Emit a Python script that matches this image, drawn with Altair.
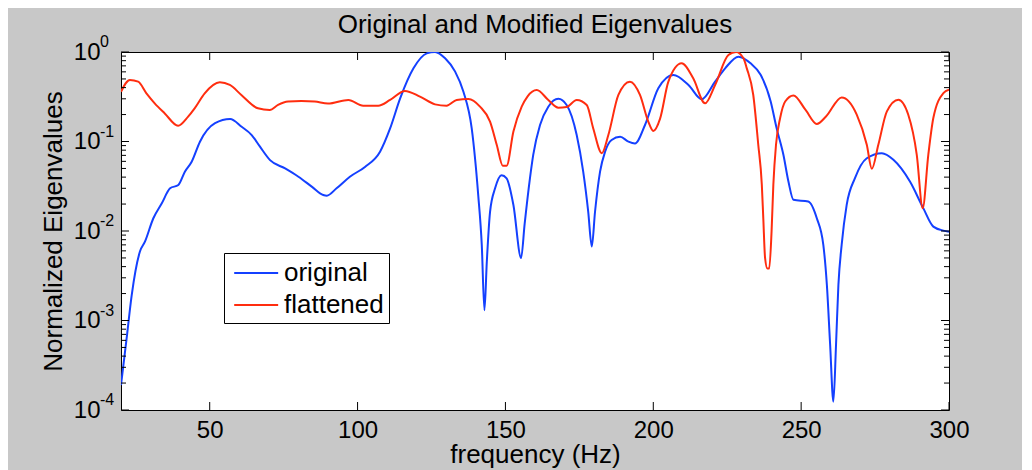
import altair as alt
import pandas as pd

# ---------------- data ----------------
orig_freq = [20.0, 21.9, 23.6, 26.4, 28.1, 30.9, 33.8, 36.6, 39.4, 41.6, 43.9, 46.7,
             51.8, 56.9, 60.8, 64.2, 67.0, 70.4, 75.5, 80.0, 84.5, 88.4, 89.6, 92.9,
             97.4, 102.5, 107.6, 111.0, 114.4, 118.9, 123.4, 126.2, 129.6, 133.0, 135.8,
             138.6, 140.8, 142.0, 142.9, 143.7, 144.8, 146.5, 148.7, 150.4, 152.7, 155.3,
             156.5, 158.3, 159.4, 161.7, 164.5, 167.9, 170.7, 174.1, 176.3, 178.0, 179.2,
             180.3, 182.0, 183.7, 185.9, 188.8, 191.6, 193.8, 197.2, 201.7, 206.8, 211.9,
             216.4, 220.9, 224.3, 228.8, 232.9, 236.3, 239.7, 241.7, 244.0, 245.7, 247.4,
             252.4, 255.3, 257.5, 258.7, 259.8, 260.9, 261.8, 262.6, 263.7, 265.4, 268.2,
             272.2, 277.3, 281.2, 286.8, 291.3, 294.7, 298.1, 300.0]
orig_val = [1.9e-4, 6.3e-4, 1.9e-3, 5.9e-3, 7.6e-3, 0.0138, 0.0204, 0.030, 0.0327, 0.046,
            0.0594, 0.0995, 0.16, 0.178, 0.146, 0.118, 0.0875, 0.062, 0.050, 0.0404, 0.0313,
            0.0252, 0.0248, 0.030, 0.0404, 0.052, 0.077, 0.14, 0.303, 0.657, 0.966, 1.0,
            0.85, 0.603, 0.36, 0.14, 0.0252, 7.0e-3, 1.3e-3, 4.5e-3, 0.0164, 0.030, 0.042,
            0.0388, 0.0195, 5.0e-3, 0.012, 0.039, 0.071, 0.153, 0.245, 0.30, 0.256, 0.118,
            0.046, 0.0164, 6.7e-3, 0.0164, 0.046, 0.077, 0.104, 0.113, 0.0995, 0.095, 0.153,
            0.393, 0.553, 0.428, 0.296, 0.466, 0.657, 0.887, 0.747, 0.557, 0.28, 0.141,
            0.071, 0.0357, 0.0223, 0.0214, 0.0139, 0.0070, 0.0025, 5.4e-4, 1.24e-4, 5.4e-4,
            0.0025, 0.0070, 0.0196, 0.039, 0.065, 0.074, 0.0625, 0.0357, 0.018, 0.0112,
            0.0101, 0.0098]

flat_freq = [20.0, 23.0, 25.8, 28.6, 31.4, 34.8, 39.3, 42.7, 44.9, 48.3, 53.4, 56.8,
             60.7, 66.3, 70.3, 73.1, 76.5, 81.0, 85.5, 90.0, 96.9, 101.9, 107.0, 111.0,
             116.0, 121.1, 126.2, 130.1, 133.5, 137.5, 141.4, 144.8, 147.1, 149.1, 150.4,
             152.7, 155.5, 157.5, 160.6, 164.5, 167.9, 170.7, 174.1, 177.5, 179.7, 182.6,
             184.8, 188.2, 192.1, 195.5, 198.3, 200.0, 202.3, 205.1, 209.6, 213.5, 217.5,
             220.9, 225.4, 228.0, 230.5, 231.6, 233.8, 235.5, 236.7, 237.2, 237.8, 238.6,
             239.2, 240.0, 240.6, 241.5, 242.9, 244.6, 247.4, 251.5, 255.3, 258.4, 263.7,
             268.8, 272.2, 273.9, 276.1, 279.0, 282.9, 286.2, 289.1, 291.1, 293.0, 294.7,
             298.1, 300.0]
flat_val = [0.36, 0.487, 0.466, 0.345, 0.267, 0.206, 0.150, 0.19, 0.235, 0.345, 0.458,
            0.428, 0.331, 0.235, 0.225, 0.256, 0.279, 0.283, 0.279, 0.265, 0.291, 0.251,
            0.251, 0.291, 0.367, 0.317, 0.26, 0.251, 0.291, 0.298, 0.245, 0.167, 0.091,
            0.0537, 0.0537, 0.129, 0.245, 0.32, 0.376, 0.291, 0.239, 0.243, 0.291, 0.256,
            0.14, 0.074, 0.118, 0.331, 0.466, 0.331, 0.167, 0.131, 0.18, 0.466, 0.747,
            0.508, 0.267, 0.428, 0.925, 1.0, 0.85, 0.66, 0.333, 0.092, 0.033, 0.0139,
            0.005, 0.0038, 0.0038, 0.0099, 0.033, 0.092, 0.183, 0.28, 0.327, 0.225, 0.157,
            0.19, 0.311, 0.2, 0.092, 0.0496, 0.092, 0.217, 0.293, 0.2, 0.071, 0.018, 0.071,
            0.183, 0.348, 0.38]

series_names = ["original", "flattened"]
series_colors = ["#1440ff", "#ff2d0f"]

x_tick_values = [50, 100, 150, 200, 250, 300]
y_decades = [1, 0.1, 0.01, 0.001, 0.0001]
y_exponents = ["0", "-1", "-2", "-3", "-4"]
y_minor = [m * d for d in [0.0001, 0.001, 0.01, 0.1] for m in range(2, 10)]

# ---------------- layout / style ----------------
W, H = 828, 358
FONT = "Liberation Sans"
MAJOR, MINOR = 8, 5

lines_df = pd.DataFrame({
    "freq": orig_freq + flat_freq,
    "val": orig_val + flat_val,
    "series": [series_names[0]] * len(orig_freq) + [series_names[1]] * len(flat_freq),
})

xscale = alt.Scale(domain=[20, 300], nice=False, zero=False)
yscale = alt.Scale(type="log", domain=[0.0001, 1], nice=False)
cscale = alt.Scale(domain=series_names, range=series_colors)

x_axis = alt.Axis(values=x_tick_values, ticks=False, tickSize=0, domain=False, grid=False,
                  labelFontSize=24, labelFont=FONT, labelColor="black", labelPadding=8,
                  labelFlush=False, labelOverlap=False,
                  title="frequency (Hz)", titleFontSize=26, titleFont=FONT,
                  titleFontWeight="normal", titleColor="black", titleBaseline="alphabetic",
                  titleY=52)
y_axis = alt.Axis(values=y_decades, labelExpr="'10'", ticks=False, tickSize=0, domain=False,
                  grid=False, labelFontSize=24, labelFont=FONT, labelColor="black",
                  labelPadding=21, labelOverlap=False, labelFlush=False,
                  title="Normalized Eigenvalues", titleFontSize=26, titleFont=FONT,
                  titleFontWeight="normal", titleColor="black", titleBaseline="alphabetic",
                  titleX=-60)

legend = alt.Legend(orient="none", legendX=103, legendY=201, title=None,
                    strokeColor="black", fillColor="white", padding=5, cornerRadius=0,
                    symbolType="M-0.7,0H2.44", symbolStrokeWidth=2, symbolSize=784,
                    labelFontSize=26, labelFont=FONT, labelColor="black", labelOffset=25,
                    rowPadding=4)

X = alt.X("freq:Q", scale=xscale, axis=x_axis)
Y = alt.Y("val:Q", scale=yscale, axis=y_axis)
C = alt.Color("series:N", scale=cscale, legend=legend)

base = alt.Chart(lines_df)

line_orig = base.transform_filter(alt.datum.series == series_names[0]).mark_line(
    strokeWidth=2, interpolate="monotone", clip=True).encode(x=X, y=Y, color=C)
line_flat = base.transform_filter(alt.datum.series == series_names[1]).mark_line(
    strokeWidth=2, interpolate="monotone", clip=True).encode(x=X, y=Y, color=C)

xt_df = pd.DataFrame({"freq": x_tick_values})
xt_bottom = alt.Chart(xt_df).mark_rule(color="black", strokeWidth=1).encode(
    x=X, y=alt.value(H), y2=alt.value(H - MAJOR))
xt_top = alt.Chart(xt_df).mark_rule(color="black", strokeWidth=1).encode(
    x=X, y=alt.value(0), y2=alt.value(MAJOR))

yd_df = pd.DataFrame({"val": y_decades, "exp": y_exponents})
ym_df = pd.DataFrame({"val": y_minor})


def yticks(df, length):
    left = alt.Chart(df).mark_rule(color="black", strokeWidth=1).encode(
        y=Y, x=alt.value(0), x2=alt.value(length))
    right = alt.Chart(df).mark_rule(color="black", strokeWidth=1).encode(
        y=Y, x=alt.value(W), x2=alt.value(W - length))
    return [left, right]


exps = alt.Chart(yd_df).mark_text(align="left", baseline="alphabetic", dy=-5,
                                  fontSize=16, font=FONT, color="black").encode(
    y=Y, x=alt.value(-21), text="exp:N")

chart = alt.layer(
    line_orig, line_flat, xt_bottom, xt_top, *yticks(yd_df, MAJOR), *yticks(ym_df, MINOR), exps
).properties(
    width=W, height=H,
    title=alt.TitleParams("Original and Modified Eigenvalues", fontSize=26, font=FONT,
                          fontWeight="normal", color="black", anchor="middle",
                          frame="group", baseline="alphabetic", offset=2, dy=27),
    autosize=alt.AutoSizeParams(type="none"),
    padding={"left": 113, "top": 44, "right": 73, "bottom": 60},
).configure(
    background="#c8c8c8", font=FONT
).configure_view(
    stroke="black", strokeWidth=1, fill="white"
)

chart.save("out.html", embed_options={"renderer": "svg", "actions": False})
